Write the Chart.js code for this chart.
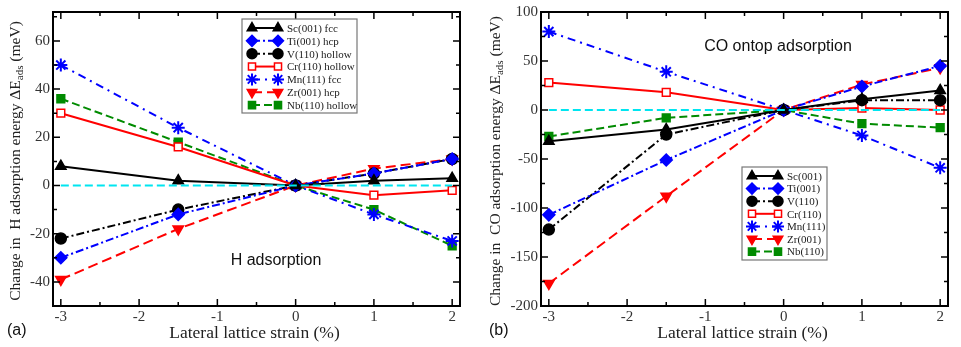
<!DOCTYPE html>
<html>
<head>
<meta charset="utf-8">
<script src="https://cdn.jsdelivr.net/npm/chart.js@4.4.1/dist/chart.umd.min.js"></script>
<style>
  html, body { margin: 0; padding: 0; background: #fff; }
  #wrap { position: relative; width: 961px; height: 347px; }
  canvas { position: absolute; top: 0; }
  #chartA { left: 0; }
  #chartB { left: 480px; }
</style>
</head>
<body>
<div id="wrap">
  <canvas id="chartA" width="480" height="347"></canvas>
  <canvas id="chartB" width="481" height="347"></canvas>
</div>
<script>
// lateral strain (%) sampled in both panels
const strain = [-3, -1.5, 0, 1, 2];
const seriesNames = ["Sc(001)", "Ti(001)", "V(110)", "Cr(110)", "Mn(111)", "Zr(001)", "Nb(110)"];
const siteLabelsH = [" fcc", " hcp", " hollow", " hollow", " fcc", " hcp", " hollow"];

// (a) H adsorption, meV
const hSc = [8, 2, 0, 2, 3];
const hTi = [-30, -12, 0, 5, 11];
const hV  = [-22, -10, 0, 5, 11];
const hCr = [30, 16, 0, -4, -2];
const hMn = [50, 24, 0, -12, -23];
const hZr = [-39, -18, 0, 7, 11];
const hNb = [36, 18, 0, -10, -25];

// (b) CO ontop adsorption, meV
const coSc = [-32, -20, 0, 11, 20];
const coTi = [-107, -51, 0, 24, 45];
const coV  = [-122, -25, 0, 10, 10];
const coCr = [28, 18, 0, 2, 0];
const coMn = [80, 39, 0, -26, -59];
const coZr = [-177, -88, 0, 26, 43];
const coNb = [-27, -8, 0, -14, -18];

const zeroLine = [0, 0, 0, 0, 0];

const xTicks = [-3, -2, -1, 0, 1, 2];
const yTicksH = [-40, -20, 0, 20, 40, 60];
const yTicksCO = [-200, -150, -100, -50, 0, 50, 100];

const BLUE = '#0000ff', RED = '#ff0000', GREEN = '#008b00', CYAN = '#00e5f0';

// look of each series (same order as seriesNames)
const styles = [
  { color: '#000', dash: [],            point: 'triangle', rot: 0,   fill: '#000', r: 6 },
  { color: BLUE,   dash: [8, 3, 2, 3],  point: 'rectRot',  rot: 0,   fill: BLUE,   r: 6 },
  { color: '#000', dash: [8, 3, 2, 3],  point: 'circle',   rot: 0,   fill: '#000', r: 5.5 },
  { color: RED,    dash: [],            point: 'rect',     rot: 0,   fill: '#fff', r: 5.5 },
  { color: BLUE,   dash: [8, 5, 2, 5],  point: 'star',     rot: 0,   fill: BLUE,   r: 6.5 },
  { color: RED,    dash: [10, 5],       point: 'triangle', rot: 180, fill: RED,    r: 6 },
  { color: GREEN,  dash: [8, 4],        point: 'rect',     rot: 0,   fill: GREEN,  r: 5.5 }
];

function toXY(vals) {
  return vals.map((v, i) => ({ x: strain[i], y: v }));
}

function makeDatasets(seriesList) {
  const sets = [];
  seriesList.forEach((vals, i) => {
    const s = styles[i];
    sets.push({
      label: seriesNames[i],
      data: toXY(vals),
      borderColor: s.color,
      borderWidth: 2,
      borderDash: s.dash,
      pointStyle: s.point,
      pointRotation: s.rot,
      pointRadius: s.r,
      pointBackgroundColor: s.fill,
      pointBorderColor: s.color,
      pointBorderWidth: s.point === 'star' ? 2 : 1.5,
      tension: 0
    });
  });
  // zero reference line drawn over the series
  sets.push({
    label: 'zero',
    data: toXY(zeroLine),
    borderColor: CYAN,
    borderWidth: 2,
    borderDash: [8, 4],
    pointRadius: 0,
    order: -1
  });
  return sets;
}

// frame + inward ticks on all four sides, axis titles, legend, labels
const framePlugin = {
  id: 'frame',
  afterDraw(chart, args, opts) {
    const { ctx, chartArea: a, scales } = chart;
    const xs = scales.x, ys = scales.y;
    ctx.save();
    ctx.strokeStyle = '#000';
    ctx.lineWidth = 2;
    ctx.setLineDash([]);
    ctx.strokeRect(a.left, a.top, a.right - a.left, a.bottom - a.top);

    ctx.lineWidth = 1.5;
    const tick = (v, len, isX) => {
      ctx.beginPath();
      if (isX) {
        const px = xs.getPixelForValue(v);
        ctx.moveTo(px, a.bottom); ctx.lineTo(px, a.bottom - len);
        ctx.moveTo(px, a.top); ctx.lineTo(px, a.top + len);
      } else {
        const py = ys.getPixelForValue(v);
        ctx.moveTo(a.left, py); ctx.lineTo(a.left + len, py);
        ctx.moveTo(a.right, py); ctx.lineTo(a.right - len, py);
      }
      ctx.stroke();
    };
    for (let v = -3; v <= 2.01; v += 0.5) {
      tick(v, Number.isInteger(v) ? 7 : 4, true);
    }
    const yt = opts.yTicks;
    const step = (yt[1] - yt[0]) / 2;
    for (let v = yt[0] - step; v <= ys.max; v += step) {
      if (v < ys.min) continue;
      tick(v, yt.includes(v) ? 7 : 4, false);
    }

    // y axis title with subscript
    ctx.fillStyle = '#222';
    ctx.translate(opts.yTitleX, (a.top + a.bottom) / 2 + 2);
    ctx.rotate(-Math.PI / 2);
    const big = '15.5px "Liberation Serif", serif';
    const small = '11px "Liberation Serif", serif';
    const p1 = opts.yTitle, p2 = 'ads', p3 = ' (meV)';
    ctx.font = big; const w1 = ctx.measureText(p1).width, w3 = ctx.measureText(p3).width;
    ctx.font = small; const w2 = ctx.measureText(p2).width;
    let x0 = -(w1 + w2 + w3) / 2;
    ctx.textBaseline = 'middle';
    ctx.textAlign = 'left';
    ctx.font = big; ctx.fillText(p1, x0, 0);
    ctx.font = small; ctx.fillText(p2, x0 + w1, 4);
    ctx.font = big; ctx.fillText(p3, x0 + w1 + w2, 0);
    ctx.setTransform(1, 0, 0, 1, 0, 0);

    // x axis title
    ctx.font = '17.5px "Liberation Serif", serif';
    ctx.textAlign = 'center';
    ctx.fillText('Lateral lattice strain (%)', (a.left + a.right) / 2 - 2, 333);

    // panel letter and annotation
    ctx.font = '16px "Liberation Sans", Arial, sans-serif';
    ctx.textAlign = 'left';
    ctx.fillStyle = '#111';
    ctx.fillText(opts.letter, opts.letterX, 331);
    ctx.textAlign = 'center';
    ctx.fillText(opts.note, opts.noteX, opts.noteY);

    // legend box
    const L = opts.legend;
    ctx.fillStyle = '#fff';
    ctx.fillRect(L.x, L.y, L.w, L.h);
    ctx.strokeStyle = '#777';
    ctx.lineWidth = 1.2;
    ctx.strokeRect(L.x, L.y, L.w, L.h);
    ctx.font = '11px "Liberation Serif", serif';
    ctx.textAlign = 'left';
    ctx.textBaseline = 'middle';
    seriesNames.forEach((name, i) => {
      const s = styles[i];
      const yy = L.y + L.row0 + i * L.rowH;
      ctx.strokeStyle = s.color;
      ctx.lineWidth = 2;
      ctx.setLineDash(s.dash);
      ctx.beginPath();
      ctx.moveTo(L.x1, yy); ctx.lineTo(L.x2, yy);
      ctx.stroke();
      ctx.setLineDash([]);
      [L.x1, L.x2].forEach(px => {
        ctx.fillStyle = s.fill;
        ctx.strokeStyle = s.color;
        ctx.lineWidth = s.point === 'star' ? 2 : 1.5;
        Chart.helpers.drawPoint(ctx, {
          pointStyle: s.point, rotation: s.rot, radius: s.r - 0.5, borderWidth: ctx.lineWidth
        }, px, yy);
      });
      ctx.fillStyle = '#222';
      ctx.fillText(name + (opts.sites ? opts.sites[i] : ''), L.x2 + 9, yy + 1);
    });
    ctx.restore();
  }
};

function makeChart(id, seriesList, yMin, yMax, yTicks, pad, opts) {
  return new Chart(document.getElementById(id), {
    type: 'line',
    data: { datasets: makeDatasets(seriesList) },
    options: {
      responsive: false,
      animation: false,
      layout: { padding: { left: 0, right: pad.right, top: pad.top, bottom: 0 } },
      plugins: { legend: { display: false }, tooltip: { enabled: false }, frame: opts },
      scales: {
        x: {
          type: 'linear', min: -3.1, max: 2.1,
          afterBuildTicks: s => { s.ticks = xTicks.map(v => ({ value: v })); },
          afterFit: s => { s.height = 347 - pad.bottomEdge; },
          grid: { display: false, drawTicks: false },
          border: { display: false },
          ticks: { padding: 2, color: '#333', font: { family: '"Liberation Serif", serif', size: 15 }, callback: v => String(v) }
        },
        y: {
          min: yMin, max: yMax,
          afterBuildTicks: s => { s.ticks = yTicks.map(v => ({ value: v })); },
          afterFit: s => { s.width = pad.left; },
          grid: { display: false, drawTicks: false },
          border: { display: false },
          ticks: { padding: 3, color: '#333', font: { family: '"Liberation Serif", serif', size: 15 }, callback: v => String(v) }
        }
      }
    },
    plugins: [framePlugin]
  });
}

makeChart('chartA', [hSc, hTi, hV, hCr, hMn, hZr, hNb], -50, 72, yTicksH,
  { left: 53, right: 20, top: 11, bottomEdge: 306 },
  {
    yTicks: yTicksH, yTitle: 'Change in  H adsorption energy \u0394E', yTitleX: 16,
    letter: '(a)', letterX: 7, note: 'H adsorption', noteX: 276, noteY: 261,
    sites: siteLabelsH,
    legend: { x: 242, y: 19, w: 115, h: 94, row0: 9, rowH: 12.85, x1: 252, x2: 278 }
  });

makeChart('chartB', [coSc, coTi, coV, coCr, coMn, coZr, coNb], -200, 100, yTicksCO,
  { left: 61, right: 13, top: 12, bottomEdge: 306 },
  {
    yTicks: yTicksCO, yTitle: 'Change in  CO adsorption energy \u0394E', yTitleX: 16,
    letter: '(b)', letterX: 9, note: 'CO ontop adsorption', noteX: 298, noteY: 47,
    sites: null,
    legend: { x: 262, y: 167, w: 85, h: 93, row0: 9, rowH: 12.6, x1: 272, x2: 298 }
  });
</script>
</body>
</html>
